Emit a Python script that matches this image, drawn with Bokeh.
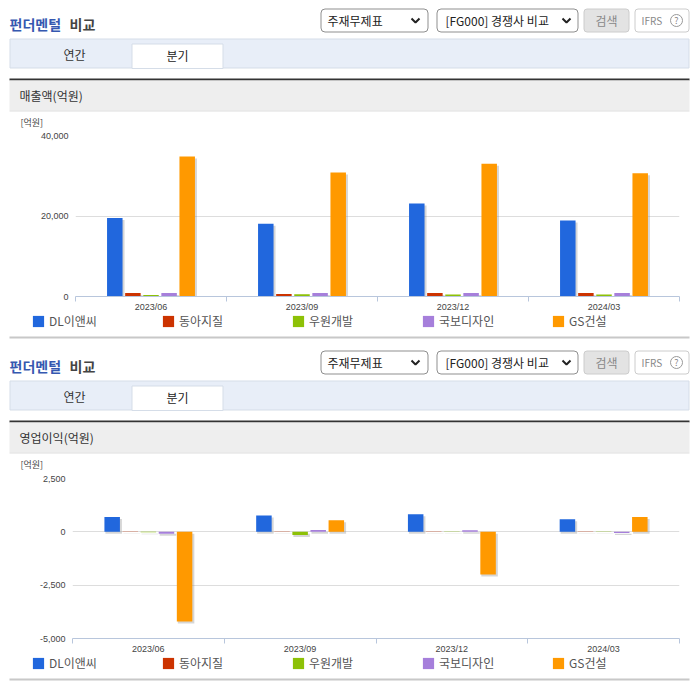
from bokeh.plotting import figure
from bokeh.layouts import column
from bokeh.core.properties import value
from bokeh.models import (ColumnDataSource, Range1d, LinearAxis, FixedTicker,
                          NumeralTickFormatter, Legend, LegendItem, Grid)
from bokeh.embed import file_html
from bokeh.resources import INLINE

FONT = "Noto Sans CJK KR"
QUARTERS = ["2023/06", "2023/09", "2023/12", "2024/03"]
COMPANIES = ["DL이앤씨", "동아지질", "우원개발", "국보디자인", "GS건설"]
COLORS = ["#2167dd", "#cc3300", "#8dc107", "#a67fdb", "#ff9900"]

REV_DL = [19500, 18100, 23100, 18900]
REV_DONGA = [870, 600, 900, 900]
REV_WOOWON = [370, 550, 500, 500]
REV_KUKBO = [900, 850, 900, 900]
REV_GS = [34800, 30800, 33000, 30600]

OP_DL = [690, 770, 820, 590]
OP_DONGA = [-10, -10, 10, 10]
OP_WOOWON = [-20, -150, 10, -10]
OP_KUKBO = [-90, 90, 80, -60]
OP_GS = [-4200, 540, -2000, 690]

REV_TICKS = [0, 20000, 40000]
OP_TICKS = [-5000, -2500, 0, 2500]

TABS = ["연간", "분기"]
TITLE_A = "펀더멘털"
TITLE_B = "비교"
SEL_A = "주재무제표"
SEL_B = "[FG000] 경쟁사 비교"
BTN = "검색"
IFRS = "IFRS"
UNIT = "[억원]"

W = 696


def chrome(y0, y1, header=None, block=None, rule_y=None, legend_from_bottom=None, overlap=0):
    p = figure(width=W, height=y1 - y0, x_range=Range1d(0, W), y_range=Range1d(y1, y0),
               output_backend="svg", toolbar_location=None, x_axis_location=None, y_axis_location=None,
               min_border=0, outline_line_color=None, background_fill_color="white", border_fill_color="white",
               frame_align=False, margin=(-overlap, 0, 0, 0))
    p.xgrid.visible = False
    p.ygrid.visible = False
    if legend_from_bottom is not None:
        items = []
        for name, col in zip(COMPANIES, COLORS):
            # the key's colour source sits outside the visible range; the legend draws the swatch
            r = p.quad(left=[-20], right=[-10], top=[y0 + 1], bottom=[y0 + 2], fill_color=col, line_color=None)
            items.append(LegendItem(label=name, renderers=[r]))
        p.add_layout(Legend(items=items, orientation="horizontal", location=(31, legend_from_bottom), margin=0,
                            padding=0, spacing=0, glyph_width=14, glyph_height=14, label_standoff=4, label_width=112,
                            label_height=12, label_text_font=FONT, label_text_font_size="12px",
                            label_text_color="#555555", background_fill_alpha=0, border_line_alpha=0))
    if rule_y is not None:
        p.quad(left=[9], right=[689], top=[rule_y], bottom=[rule_y + 2], fill_color="#c8c8c8", line_color=None)
    if block is None:
        return p
    o = block

    def T(x, y, s, size=12, color="#333333", style="normal", align="left"):
        p.text([x], [y + o], text=[s], text_font=value(FONT), text_font_size=f"{size}px", text_color=color,
               text_font_style=style, text_align=align, text_baseline="middle")

    def box(l, r, t, b, fill, line, rad=0):
        p.quad(left=[l], right=[r], top=[t + o], bottom=[b + o], fill_color=fill, line_color=line,
               border_radius=rad)

    T(9, 23, TITLE_A, 14, "#3558b0", "bold")
    T(69, 23, TITLE_B, 14, "#444444", "bold")
    box(320.5, 427.5, 8.5, 31.5, "white", "#8f8f8f", 4)
    T(327, 20, SEL_A, 12, "#222222")
    box(436.5, 577.5, 8.5, 31.5, "white", "#8f8f8f", 4)
    T(445, 20, SEL_B, 12, "#222222")
    for cx in (415, 566):
        p.line([cx - 4, cx, cx + 4], [18 + o, 22 + o, 18 + o], line_color="#222222", line_width=2)
    box(583.5, 628.5, 8.5, 31.5, "#e3e3e3", "#cccccc", 3)
    T(606, 20, BTN, 12, "#888888", align="center")
    box(634.5, 688.5, 8.5, 31.5, "white", "#cccccc", 3)
    T(641, 20, IFRS, 10, "#888888")
    p.scatter([676], [20 + o], size=12, fill_color="white", line_color="#999999")
    T(676, 20, "?", 9, "#888888", align="center")
    box(9.5, 688.5, 38.5, 67.5, "#e8eef8", "#d5dde8")
    box(131.5, 222.5, 43.5, 68, "white", "#d5dde8")
    T(74, 54, TABS[0], 12, "#333333", align="center")
    T(177, 55, TABS[1], 12, "#222222", align="center")
    p.quad(left=[9], right=[689], top=[78 + o], bottom=[80 + o], fill_color="#333333", line_color=None)
    p.quad(left=[9], right=[689], top=[80 + o], bottom=[110 + o], fill_color="#eeeeee", line_color=None)
    p.line([9, 689], [110.5 + o, 110.5 + o], line_color="#dddddd")
    T(19, 95, header, 12, "#333333")
    T(20, 122, UNIT, 9, "#444444")
    return p


def chart(series, y_lo, y_hi, ticks, page_top, page_bottom, frame_top, frame_bottom, frame_left):
    left = frame_left
    right = W - 679
    plot_h = frame_bottom - frame_top
    px_y = (y_hi - y_lo) / plot_h
    n = len(QUARTERS)
    px_x = n / (679 - frame_left)
    p = figure(width=W, height=page_bottom - page_top, x_range=Range1d(0, n), y_range=Range1d(y_lo, y_hi),
               output_backend="svg", toolbar_location=None,
               x_axis_location=None, y_axis_location=None, min_border_left=left, min_border_right=right,
               min_border_top=frame_top - page_top, min_border_bottom=page_bottom - frame_bottom,
               outline_line_color=None, background_fill_color="white", border_fill_color="white",
               frame_align=False)
    p.xgrid.visible = False
    p.ygrid.visible = False

    # boundary ticks and the axis line (blank labels on the ticks)
    edge_ticks = list(range(n + 1))
    edges = LinearAxis(ticker=FixedTicker(ticks=edge_ticks), major_label_overrides={t: " " for t in edge_ticks},
                       axis_line_color="#b8c6dc", major_tick_line_color="#b8c6dc", major_tick_out=5, major_tick_in=0,
                       minor_tick_line_color=None, major_label_text_font_size="1px", major_label_standoff=0)
    p.add_layout(edges, "below")
    centres = [i + 0.5 for i in range(n)]
    cat = LinearAxis(ticker=FixedTicker(ticks=centres), major_label_overrides=dict(zip(centres, QUARTERS)),
                     axis_line_color=None, major_tick_line_color=None, minor_tick_line_color=None,
                     major_tick_out=0, major_tick_in=0, major_label_standoff=-4,
                     major_label_text_font_size="9px", major_label_text_color="#444444",
                     major_label_text_font="Liberation Sans")
    p.add_layout(cat, "below")
    yax = LinearAxis(ticker=FixedTicker(ticks=ticks), formatter=NumeralTickFormatter(format="0,0"),
                     axis_line_color=None, major_tick_line_color=None, minor_tick_line_color=None,
                     major_tick_out=0, major_tick_in=0, major_label_standoff=7, major_label_text_font_size="9px",
                     major_label_text_color="#444444", major_label_text_font="Liberation Sans")
    p.add_layout(yax, "left")
    p.add_layout(Grid(dimension=1, ticker=yax.ticker, grid_line_color="#dddddd", level="underlay"))

    step = 18.1 * px_x
    bw = 15.5 * px_x
    for i, (vals, col) in enumerate(zip(series, COLORS)):
        xs = [c + (i - 2) * step for c in centres]
        tops = [max(v, 0) for v in vals]
        bots = [min(v, 0) for v in vals]
        sh = ColumnDataSource(dict(x=[x + 1.5 * px_x for x in xs], top=[t - 2 * px_y for t in tops],
                                   bottom=[b - 2 * px_y for b in bots]))
        p.vbar(x="x", top="top", bottom="bottom", width=bw + px_x, source=sh,
               fill_color="#8a8a8a", fill_alpha=0.35, line_color=None)
        src = ColumnDataSource(dict(x=xs, top=tops, bottom=bots))
        p.vbar(x="x", top="top", bottom="bottom", width=bw, source=src, fill_color=col, line_color=None)
    return p


c1 = chrome(0, 128, header="매출액(억원)", block=0)
p1 = chart([REV_DL, REV_DONGA, REV_WOOWON, REV_KUKBO, REV_GS], 0, 40000, REV_TICKS, 128, 314, 135, 296, 75)
c2 = chrome(310, 470, header="영업이익(억원)", block=342, rule_y=336, legend_from_bottom=141, overlap=4)
p2 = chart([OP_DL, OP_DONGA, OP_WOOWON, OP_KUKBO, OP_GS], -5000, 2500, OP_TICKS, 470, 656, 478, 638, 72)
c3 = chrome(652, 684, rule_y=678, legend_from_bottom=13, overlap=4)

page = column(c1, p1, c2, p2, c3, spacing=0)
open("out.html", "w").write(file_html(page, INLINE))
